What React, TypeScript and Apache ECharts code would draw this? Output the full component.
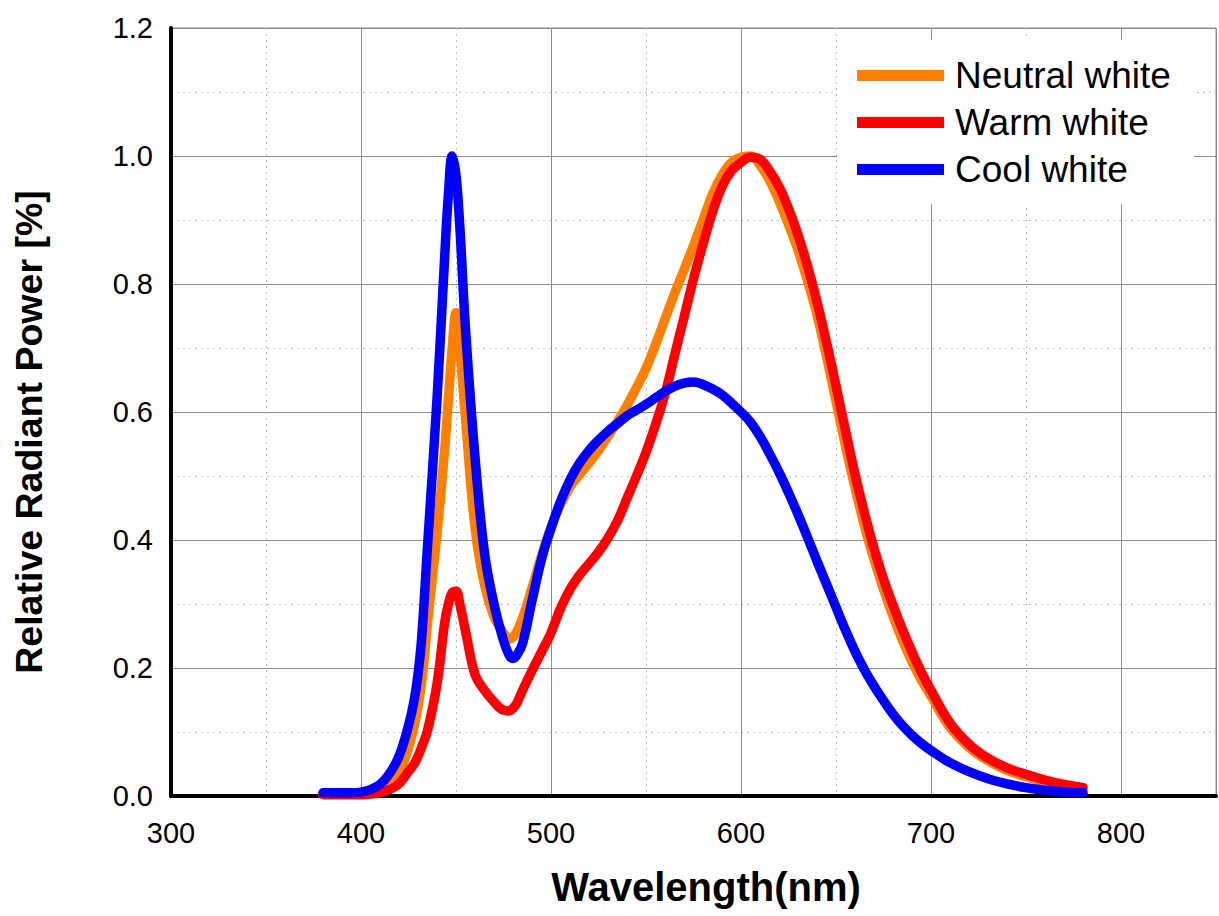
import React, { useEffect, useRef } from "react";
import * as echarts from "echarts";

const wavelengths = [
  380, 385, 390, 395, 400, 405, 410, 415, 420, 425, 428, 430, 432, 435, 440, 444, 446, 448, 450, 452, 455, 460,
  465, 470, 475, 478, 480, 482, 485, 490, 495, 500, 505, 510, 515, 520, 525, 530, 535, 540, 545, 550, 555, 560,
  565, 570, 575, 580, 585, 590, 595, 600, 605, 610, 615, 620, 625, 630, 635, 640, 645, 650, 655, 660,
  665, 670, 675, 680, 685, 690, 695, 700, 710, 720, 730, 740, 750, 760, 770, 780,
];

const neutralWhite = [
  0.003, 0.003, 0.003, 0.003, 0.004, 0.006, 0.01, 0.02, 0.037, 0.075, 0.11, 0.14, 0.18, 0.27, 0.41, 0.54, 0.62, 0.7, 0.755, 0.7, 0.59, 0.42,
  0.33, 0.28, 0.255, 0.245, 0.248, 0.257, 0.278, 0.325, 0.375, 0.42, 0.455, 0.483, 0.502, 0.52, 0.54, 0.562, 0.585, 0.61, 0.638, 0.668, 0.705, 0.745,
  0.785, 0.822, 0.86, 0.9, 0.94, 0.97, 0.99, 0.998, 1.0, 0.986, 0.962, 0.93, 0.893, 0.853, 0.805, 0.752, 0.687, 0.617, 0.547, 0.482,
  0.422, 0.37, 0.323, 0.281, 0.243, 0.21, 0.181, 0.156, 0.107, 0.076, 0.055, 0.04, 0.03, 0.022, 0.016, 0.011,
];

const warmWhite = [
  0.002, 0.002, 0.002, 0.002, 0.002, 0.003, 0.005, 0.01, 0.019, 0.038, 0.05, 0.062, 0.077, 0.102, 0.175, 0.27, 0.3, 0.318, 0.32, 0.3, 0.258, 0.19,
  0.165, 0.147, 0.134, 0.133, 0.137, 0.145, 0.165, 0.196, 0.225, 0.255, 0.293, 0.323, 0.345, 0.363, 0.381, 0.403, 0.43, 0.465, 0.5, 0.537, 0.58, 0.628,
  0.688, 0.748, 0.808, 0.862, 0.912, 0.952, 0.977, 0.99, 0.998, 0.995, 0.977, 0.952, 0.918, 0.877, 0.828, 0.772, 0.709, 0.641, 0.571, 0.503,
  0.442, 0.387, 0.339, 0.298, 0.26, 0.225, 0.193, 0.165, 0.114, 0.081, 0.059, 0.044, 0.034, 0.025, 0.018, 0.013,
];

const coolWhite = [
  0.005, 0.005, 0.005, 0.005, 0.006, 0.01, 0.018, 0.035, 0.062, 0.11, 0.15, 0.19, 0.25, 0.39, 0.62, 0.84, 0.94, 1.0, 0.97, 0.89, 0.73, 0.53,
  0.38, 0.3, 0.243, 0.22, 0.215, 0.22, 0.238, 0.305, 0.37, 0.418, 0.46, 0.494, 0.52, 0.54, 0.556, 0.57, 0.582, 0.594, 0.603, 0.612, 0.622, 0.632,
  0.64, 0.645, 0.647, 0.643, 0.636, 0.627, 0.614, 0.6, 0.584, 0.562, 0.535, 0.506, 0.474, 0.44, 0.404, 0.367, 0.331, 0.295, 0.259, 0.226,
  0.197, 0.172, 0.149, 0.128, 0.11, 0.095, 0.082, 0.071, 0.052, 0.038, 0.027, 0.019, 0.013, 0.009, 0.006, 0.005,
];

const seriesNames = ["Neutral white", "Warm white", "Cool white"];
const seriesColors = ["#FF8000", "#FF0000", "#0000FF"];
const seriesValues = [neutralWhite, warmWhite, coolWhite];

const FONT = "Liberation Sans, Arial, sans-serif";

export default function App() {
  const ref = useRef<HTMLDivElement>(null);

  useEffect(() => {
    if (!ref.current) return;
    const chart = echarts.init(ref.current, null, { renderer: "svg" });
    const option: any = {
      animation: false,
      backgroundColor: "#fff",
      grid: {
        left: 171,
        right: 3,
        top: 28,
        bottom: 120,
        show: true,
        borderColor: "#8c8c8c",
        borderWidth: 1,
      },
      legend: {
        orient: "vertical",
        left: 837,
        top: 40,
        padding: [17, 23, 16, 20],
        backgroundColor: "#fff",
        icon: "rect",
        itemWidth: 87,
        itemHeight: 11,
        itemGap: 10,
        data: seriesNames,
        textStyle: {
          fontFamily: FONT,
          fontSize: 37,
          color: "#000",
          padding: [0, 0, 0, 6],
        },
        z: 10,
      },
      xAxis: [
        {
          type: "value",
          min: 300,
          max: 850,
          interval: 50,
          axisLine: { show: false },
          axisTick: { show: false },
          axisLabel: { show: false },
          splitLine: {
            show: true,
            lineStyle: { color: "#bdbdbd", width: 1, type: [2, 4] },
          },
        },
        {
          type: "value",
          min: 300,
          max: 850,
          interval: 100,
          position: "bottom",
          axisLine: { show: true, onZero: false, lineStyle: { color: "#000", width: 4 } },
          axisTick: { show: false },
          axisLabel: {
            showMaxLabel: false,
            margin: 22,
            fontFamily: FONT,
            fontSize: 29,
            color: "#000",
          },
          splitLine: {
            show: true,
            lineStyle: { color: "#8c8c8c", width: 1, type: "solid" },
          },
        },
      ],
      yAxis: {
        type: "value",
        min: 0,
        max: 1.2,
        interval: 0.2,
        axisLine: { show: true, onZero: false, lineStyle: { color: "#000", width: 4 } },
        axisTick: { show: false },
        axisLabel: {
          margin: 18,
          fontFamily: FONT,
          fontSize: 29,
          color: "#000",
          formatter: (v: number) => v.toFixed(1),
        },
        splitLine: {
          show: true,
          lineStyle: { color: "#8c8c8c", width: 1, type: "solid" },
        },
        minorTick: { show: false, splitNumber: 2 },
        minorSplitLine: {
          show: true,
          lineStyle: { color: "#bdbdbd", width: 1, type: [2, 4] },
        },
      },
      graphic: [
        {
          type: "text",
          x: 28.5,
          y: 432,
          rotation: Math.PI / 2,
          style: {
            text: "Relative Radiant Power [%]",
            fontFamily: FONT,
            fontWeight: "bold",
            fontSize: 37.5,
            fill: "#000",
            align: "center",
            verticalAlign: "middle",
          },
        },
        {
          type: "text",
          x: 706,
          y: 887,
          style: {
            text: "Wavelength(nm)",
            fontFamily: FONT,
            fontWeight: "bold",
            fontSize: 40,
            fill: "#000",
            align: "center",
            verticalAlign: "middle",
          },
        },
      ],
      series: seriesNames.map((name, i) => ({
        name,
        type: "line",
        xAxisIndex: 0,
        smooth: 0.4,
        symbol: "none",
        clip: true,
        lineStyle: { color: seriesColors[i], width: 9.5, cap: "round", join: "round" },
        itemStyle: { color: seriesColors[i] },
        data: wavelengths.map((w, j) => [w, seriesValues[i][j]]),
        z: 3 + i,
      })),
    };
    chart.setOption(option);
    return () => chart.dispose();
  }, []);

  return (
    <div
      ref={ref}
      style={{ position: "absolute", left: 0, top: 0, width: 1219, height: 916 }}
    />
  );
}
